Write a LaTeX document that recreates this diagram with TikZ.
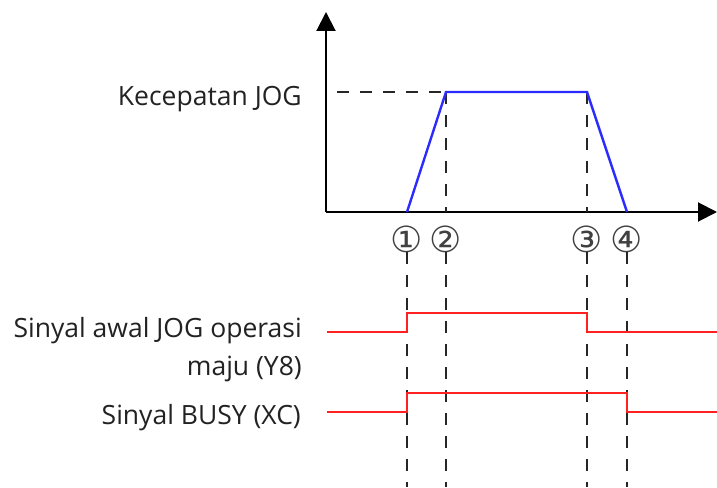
\documentclass[tikz,border=0pt]{standalone}
\usepackage{fontspec}
\setmainfont{Open Sans}
\newfontfamily\circfont{DejaVu Sans}
\usetikzlibrary{arrows.meta}
\definecolor{txtgray}{HTML}{222222}
\definecolor{speedblue}{HTML}{2B2BFF}
\definecolor{sigred}{HTML}{FF2020}
\begin{document}
\begin{tikzpicture}[x=1pt,y=-1pt,
	axis/.style={line width=2pt, -{Triangle[length=19pt,width=19pt]}},
	guide/.style={line width=1.8pt, dash pattern=on 12pt off 11pt, color=black!85},
	speed/.style={speedblue, line width=2.4pt},
	signal/.style={sigred, line width=2.4pt},
	label/.style={anchor=base east, text=txtgray, font=\fontsize{26.5}{30}\selectfont, inner sep=0pt},
	circnum/.style={text=black!75, font=\circfont\fontsize{36}{40}\selectfont, inner sep=0pt}]
\useasboundingbox (0,0) rectangle (717,487);
% axes
\coordinate (o) at (326,212);
\coordinate (ytop) at (326,12);
\coordinate (xend) at (717,212);
\draw[axis] (o) -- (ytop);
\draw[axis] (o) -- (xend);
% speed profile
\coordinate (p1) at (407,212);
\coordinate (p2) at (446,92);
\coordinate (p3) at (587,92);
\coordinate (p4) at (627,212);
\coordinate (b2) at (446,212);
\coordinate (b3) at (587,212);
\node[label] (kec) at (302,105) {Kecepatan JOG};
\coordinate (g0) at (337,92);
\draw[guide] (g0) -- (p2);
\draw[guide] (p2) -- (b2);
\draw[guide] (p3) -- (b3);
\draw[speed] (p1) -- (p2) -- (p3) -- (p4);
% time marks
\foreach \x/\n/\s in {407/1/①, 446/2/②, 587/3/③, 627/4/④}
{
	\node[circnum] (m\n) at (\x,239) {\s};
	\coordinate (t\n) at (\x,252);
	\coordinate (e\n) at (\x,487);
	\draw[guide] (t\n) -- (e\n);
}
% signals
\node[label] (sig1) at (302,337) {Sinyal awal JOG operasi};
\node[label] (sig1b) at (302,375) {maju (Y8)};
\node[label] (sig2) at (301,424) {Sinyal BUSY (XC)};
\draw[signal] (327,332) -- (407,332) -- (407,313) -- (587,313) -- (587,332) -- (717,332);
\draw[signal] (327,412) -- (407,412) -- (407,393) -- (627,393) -- (627,412) -- (717,412);
\end{tikzpicture}
\end{document}
